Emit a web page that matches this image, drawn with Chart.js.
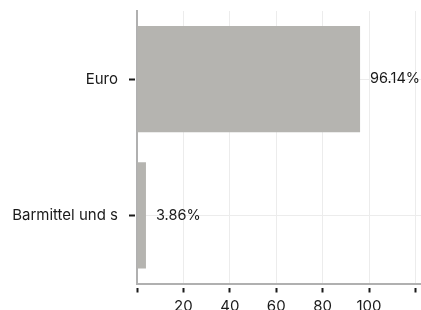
<!DOCTYPE html>
<html>
<head>
<meta charset="utf-8">
<script src="https://cdn.jsdelivr.net/npm/chart.js@4/dist/chart.umd.min.js"></script>
<style>
  html, body { margin: 0; padding: 0; background: #ffffff; overflow: hidden; }
  #wrap { position: relative; width: 421px; height: 310px; }
</style>
</head>
<body>
<div id="wrap"><canvas id="c"></canvas></div>
<script>
const categories = ['Euro', 'Barmittel und s'];
const values = [96.14, 3.86];
const valueLabels = ['96.14%', '3.86%'];
const xTickValues = [0, 20, 40, 60, 80, 100, 120];
const xTickLabels = ['', '20', '40', '60', '80', '100', ''];

const FONT = 'Inter, "Noto Sans", sans-serif';
const TEXT = '#1a1a1a';

const valueLabelPlugin = {
  id: 'valueLabels',
  afterDatasetsDraw(chart) {
    const ctx = chart.ctx;
    const meta = chart.getDatasetMeta(0);
    ctx.save();
    ctx.font = '14.5px ' + FONT;
    ctx.fillStyle = TEXT;
    ctx.textAlign = 'left';
    ctx.textBaseline = 'middle';
    meta.data.forEach((bar, i) => {
      ctx.fillText(valueLabels[i], bar.x + 10, bar.y);
    });
    ctx.restore();
  }
};

new Chart(document.getElementById('c'), {
  type: 'bar',
  data: {
    labels: categories,
    datasets: [{
      data: values,
      backgroundColor: '#b5b4b0',
      borderWidth: 0,
      barPercentage: 1,
      categoryPercentage: 0.78
    }]
  },
  options: {
    indexAxis: 'y',
    responsive: true,
    maintainAspectRatio: false,
    animation: false,
    layout: { padding: { top: 11, right: 0, left: 0, bottom: 0 } },
    plugins: { legend: { display: false }, tooltip: { enabled: false } },
    scales: {
      x: {
        min: 0,
        max: 122.4,
        afterBuildTicks(scale) { scale.ticks = xTickValues.map(v => ({ value: v })); },
        afterFit(scale) {
          scale.height = 26.5;
          scale.paddingLeft = 0; scale.paddingRight = 0;
        },
        border: { display: true, color: '#b0b0b0', width: 2 },
        grid: {
          color: '#ececec', lineWidth: 1,
          drawTicks: true, tickLength: 9, tickColor: '#1a1a1a', tickWidth: 2,
          tickBorderDash: [0, 3, 6, 100]
        },
        ticks: {
          padding: 5,
          color: TEXT,
          font: { family: FONT, size: 15 },
          maxRotation: 0,
          autoSkip: false,
          callback: (v, i) => xTickLabels[i]
        }
      },
      y: {
        afterFit(scale) {
          scale.width = 137;
          scale.paddingTop = 0; scale.paddingBottom = 0;
        },
        border: { display: true, color: '#b0b0b0', width: 2 },
        grid: {
          offset: false,
          color: '#ececec', lineWidth: 1,
          drawTicks: true, tickLength: 8, tickColor: '#1a1a1a', tickWidth: 2,
          tickBorderDash: [6, 100]
        },
        ticks: {
          padding: 11,
          color: TEXT,
          font: { family: FONT, size: 15 }
        }
      }
    }
  },
  plugins: [valueLabelPlugin]
});
</script>
</body>
</html>
